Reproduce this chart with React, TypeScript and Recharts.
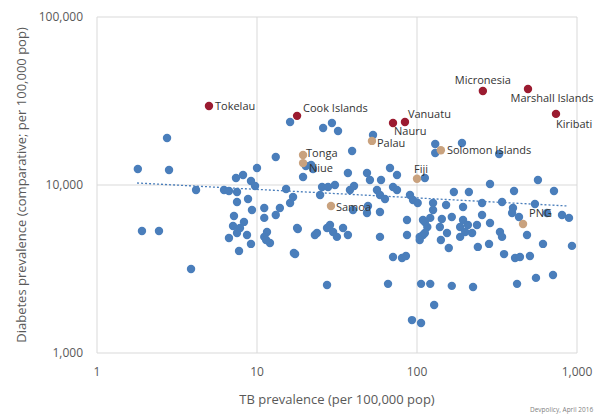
import { ScatterChart, Scatter, XAxis, YAxis, CartesianGrid, Label } from "recharts";

// Pacific countries highlighted, everyone else in blue
const tbPrevalence = [
  1.8, 1.91, 2.44, 2.74, 2.82, 3.87, 4.16, 6.22, 6.68, 7.5, 7.39, 8.18, 9.17, 9.72, 10.0,
  13.1, 16.1, 15.2, 7.5, 8.79, 16.1, 9.3, 11.1, 13.9, 13.1, 7.18, 8.29, 7.08, 7.83, 11.1,
  8.66, 7.5, 6.68, 11.55, 11.1, 7.72, 9.17, 12.05, 11.4, 17.0, 18.0, 23.0, 27.4, 25.9, 29.4,
  32.1, 53.1, 39.3, 20.2, 21.8, 22.4, 19.4, 37.0, 48.7, 50.8, 67.8, 75.0, 59.6, 112, 16.8,
  25.5, 27.8, 30.7, 24.8, 38.1, 40.4, 56.2, 58.7, 63.1, 70.8, 75.0, 90.4, 94.4, 49.4, 58.7,
  86.6, 112, 17.8, 23.7, 28.6, 29.9, 34.5, 31.6, 58.7, 86.6, 116, 39.8, 48.7, 37.0, 27.4,
  65.9, 70.8, 80.6, 85.3, 104, 109, 106, 121, 128, 93.0, 106, 17.3, 130, 130, 191,
  326, 286, 570, 718, 170, 211, 404, 101, 126, 152, 194, 255, 340, 398, 546,
  126, 393, 434, 649, 806, 891, 109, 121, 143, 165, 194, 255, 286, 139, 186,
  208, 237, 200, 186, 112, 330, 340, 487, 613, 930, 158, 240, 282, 350, 410,
  440, 508, 141, 165, 224, 422, 554, 708, 154, 221, 104,
];
const diabetesPrevalence = [
  12450, 5320, 5320, 19050, 12280, 3160, 9340, 9340, 9210, 9080, 11000, 11480, 10570, 9860, 12630,
  14690, 23710, 9470, 7920, 8260, 7810, 7100, 7300, 7300, 6630, 6540, 6030, 5700, 5550, 6370,
  5040, 5180, 4840, 5250, 4910, 4050, 4460, 4520, 4710, 3940, 5470, 5040, 5550, 21830, 23390,
  20960, 19860, 15930, 12970, 13150, 12450, 11160, 11780, 11780, 10710, 12630, 11480, 10710, 11010, 8490,
  9730, 9730, 10000, 8720, 9340, 9860, 9340, 8720, 8260, 9730, 9340, 8720, 8140, 7500, 6910,
  6190, 6030, 5550, 5180, 5780, 5250, 5550, 4910, 4910, 5040, 5620, 7100, 6810, 5040, 2540,
  2580, 3730, 3680, 3780, 4910, 5040, 2580, 2580, 1930, 1570, 1510, 3880, 17540, 15510, 17780,
  15300, 10140, 10710, 9210, 9080, 9080, 9210, 7810, 7810, 7600, 7390, 7810, 7920, 7300, 7710,
  7100, 6810, 6450, 6810, 6630, 6370, 6190, 6370, 6280, 6450, 6190, 6630, 5940, 5620, 5620,
  5780, 5780, 5250, 4910, 5180, 5250, 4910, 5040, 4460, 4340, 4220, 4280, 4460, 3880, 3680,
  3730, 3780, 4710, 2510, 2470, 2580, 2800, 2910, 5180, 5180, 4710,
];

const redNames = ["Tokelau", "Cook Islands", "Nauru", "Vanuatu", "Micronesia", "Marshall Islands", "Kiribati"];
const redTb = [5.01, 17.8, 70.8, 84.1, 258, 494, 739];
const redDiabetes = [29500, 25800, 23400, 23700, 36300, 37300, 26500];

const tanNames = ["Palau", "Tonga", "Niue", "Fiji", "Solomon Islands", "Samoa", "PNG"];
const tanTb = [52.3, 19.4, 19.4, 100, 141, 29.0, 460];
const tanDiabetes = [18300, 15100, 13500, 10900, 16100, 7500, 5860];

const trendTb = [1.78, 879];
const trendDiabetes = [10280, 7500];

const xTicks = [1, 10, 100, 1000];
const yTicks = [1000, 10000, 100000];

const labelPlacement: Record<string, { dx: number; dy: number; anchor: "start" | "middle" | "end" }> = {
  Tokelau: { dx: 6, dy: 0, anchor: "start" },
  "Cook Islands": { dx: 6, dy: -8, anchor: "start" },
  Nauru: { dx: 1, dy: 8, anchor: "start" },
  Vanuatu: { dx: 3, dy: -8, anchor: "start" },
  Micronesia: { dx: 0, dy: -11, anchor: "middle" },
  "Marshall Islands": { dx: 24, dy: 9, anchor: "middle" },
  Kiribati: { dx: 0, dy: 10, anchor: "start" },
  Palau: { dx: 5, dy: 2, anchor: "start" },
  Tonga: { dx: 3, dy: -2, anchor: "start" },
  Niue: { dx: 6, dy: 5, anchor: "start" },
  Fiji: { dx: 4, dy: -10, anchor: "middle" },
  "Solomon Islands": { dx: 6, dy: 0, anchor: "start" },
  Samoa: { dx: 5, dy: 1, anchor: "start" },
  PNG: { dx: 6, dy: -11, anchor: "start" },
};

const FONT = "'Open Sans', sans-serif";
const BLUE = "#4a7ebb";
const RED = "#9b1b30";
const TAN = "#c9a27e";

const blueData = tbPrevalence.map((tb, i) => ({ tb, diabetes: diabetesPrevalence[i] }));
const redData = redNames.map((name, i) => ({ name, tb: redTb[i], diabetes: redDiabetes[i] }));
const tanData = tanNames.map((name, i) => ({ name, tb: tanTb[i], diabetes: tanDiabetes[i] }));
const trendData = trendTb.map((tb, i) => ({ tb, diabetes: trendDiabetes[i] }));

const fmt = (v: number) => v.toLocaleString("en-US");

function dot(color: string) {
  return (props: any) => <circle cx={props.cx} cy={props.cy} r={4.2} fill={color} />;
}

function labeledDot(color: string) {
  return (props: any) => {
    const { cx, cy, payload } = props;
    const p = labelPlacement[payload.name] ?? { dx: 6, dy: 0, anchor: "start" };
    return (
      <g>
        <circle cx={cx} cy={cy} r={4.2} fill={color} />
        <text
          x={cx + p.dx}
          y={cy + p.dy}
          dy="0.35em"
          textAnchor={p.anchor}
          fontSize={11}
          fontFamily={FONT}
          fill="#333"
        >
          {payload.name}
        </text>
      </g>
    );
  };
}

export default function App() {
  return (
    <div style={{ position: "absolute", left: 0, top: 0, background: "#fff" }}>
      <ScatterChart width={599} height={414} margin={{ top: 17, right: 22, bottom: 0, left: 0 }}>
        <CartesianGrid stroke="#d9d9d9" />
        <XAxis
          type="number"
          dataKey="tb"
          scale="log"
          domain={[1, 1000]}
          ticks={xTicks}
          height={61}
          axisLine={false}
          tickLine={false}
          tickSize={0}
          tickMargin={14}
          tickFormatter={fmt}
          tick={{ fill: "#595959", fontSize: 12, fontFamily: FONT }}
        >
          <Label
            content={({ viewBox }: any) => (
              <text
                x={viewBox.x + viewBox.width / 2}
                y={399}
                dy="0.35em"
                textAnchor="middle"
                fontSize={13}
                fontFamily={FONT}
                fill="#595959"
              >
                TB prevalence (per 100,000 pop)
              </text>
            )}
          />
          <Label
            content={() => (
              <text x={530} y={410} dy="0.35em" fontSize={6.5} fontFamily={FONT} fill="#7f7f7f">
                Devpolicy, April 2016
              </text>
            )}
          />
        </XAxis>
        <YAxis
          type="number"
          dataKey="diabetes"
          scale="log"
          domain={[1000, 100000]}
          ticks={yTicks}
          width={97}
          axisLine={false}
          tickLine={false}
          tickSize={0}
          tickMargin={14}
          tickFormatter={fmt}
          tick={{ fill: "#595959", fontSize: 12, fontFamily: FONT }}
        >
          <Label
            content={({ viewBox }: any) => {
              const cy = viewBox.y + viewBox.height / 2;
              return (
                <text
                  x={21}
                  y={cy}
                  dy="0.35em"
                  textAnchor="middle"
                  transform={`rotate(-90, 21, ${cy})`}
                  fontSize={13}
                  fontFamily={FONT}
                  fill="#595959"
                >
                  Diabetes prevalence (comparative; per 100,000 pop)
                </text>
              );
            }}
          />
        </YAxis>
        <Scatter data={blueData} shape={dot(BLUE)} isAnimationActive={false} />
        <Scatter
          data={trendData}
          shape={() => <g />}
          line={{ stroke: BLUE, strokeWidth: 1.3, strokeDasharray: "2 2" }}
          isAnimationActive={false}
        />
        <Scatter data={tanData} shape={labeledDot(TAN)} isAnimationActive={false} />
        <Scatter data={redData} shape={labeledDot(RED)} isAnimationActive={false} />
      </ScatterChart>
    </div>
  );
}
